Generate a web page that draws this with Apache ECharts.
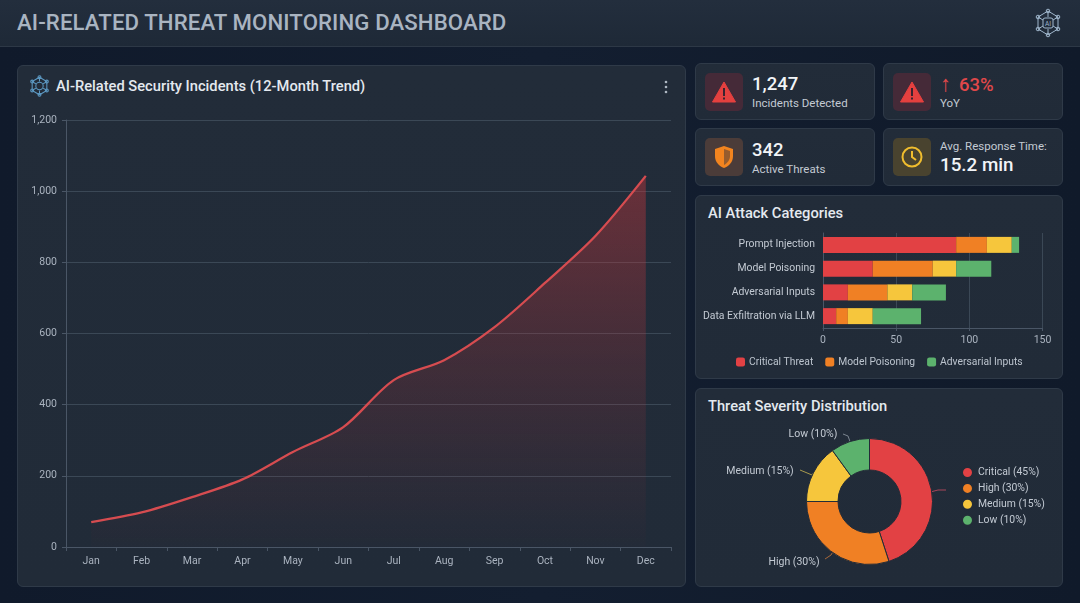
<!DOCTYPE html>
<html><head><meta charset="utf-8">
<script src="https://cdn.jsdelivr.net/npm/echarts@6/dist/echarts.min.js"></script>
<style>
html,body{margin:0;padding:0;width:1080px;height:603px;overflow:hidden;background:#0f1929;font-family:Roboto,sans-serif;}
#bg{position:absolute;inset:0;background:linear-gradient(90deg,#101a2b,#131e30 50%,#101a2a);}
#header{position:absolute;left:0;top:0;width:1080px;height:46px;background:linear-gradient(180deg,#232e3d,#1e2937);border-bottom:1px solid #2d3846;}
#header .t{position:absolute;left:17px;top:8px;font-size:22.2px;line-height:28px;font-weight:500;color:#a9b4c1;letter-spacing:.1px;white-space:nowrap;}
.card{position:absolute;box-sizing:border-box;background:linear-gradient(180deg,#222c39,#212b38);border:1px solid #2f3a48;border-radius:6px;}
.h{position:absolute;font-size:14.7px;line-height:20px;font-weight:500;color:#e4e9ef;white-space:nowrap;}
.box{position:absolute;left:9px;top:9px;width:38px;height:38px;border-radius:5px;display:flex;align-items:center;justify-content:center;}
.big{position:absolute;left:56px;font-size:18.5px;line-height:22px;font-weight:500;color:#f1f4f7;white-space:nowrap;}
.small{position:absolute;left:56px;font-size:11.5px;line-height:16px;color:#c3cad3;white-space:nowrap;}
#chart{position:absolute;left:0;top:0;width:1080px;height:603px;}
svg{display:block;}
</style></head><body>
<div id="bg"></div>
<div id="header"><div class="t">AI-RELATED THREAT MONITORING DASHBOARD</div>
<svg style="position:absolute;left:1033px;top:8px" width="30" height="30" viewBox="0 0 30 30" fill="none" stroke="#9fb6cc" stroke-width="1"><path d="M15 3L25 9V21L15 27L5 21V9Z"/><path d="M15 3V9M25 9L20 12M25 21L20 18M15 27V21M5 21L10 18M5 9L10 12"/><rect x="10" y="10" width="10" height="10" rx="2"/><circle cx="15" cy="3" r="1.8"/><circle cx="25" cy="9" r="1.8"/><circle cx="25" cy="21" r="1.8"/><circle cx="15" cy="27" r="1.8"/><circle cx="5" cy="21" r="1.8"/><circle cx="5" cy="9" r="1.8"/><text x="15" y="17.5" font-size="6.5" text-anchor="middle" fill="#9fb6cc" stroke="none" font-family="Roboto">AI</text></svg>
</div>

<div class="card" style="left:17px;top:65px;width:669px;height:522px;">
<svg style="position:absolute;left:10px;top:9px" width="23" height="22" viewBox="0 0 30 30" fill="none" stroke="#5d9ac4" stroke-width="1.4"><path d="M15 3L25 9V21L15 27L5 21V9Z"/><path d="M15 3V9M25 9L20 12M25 21L20 18M15 27V21M5 21L10 18M5 9L10 12"/><circle cx="15" cy="15" r="5"/><circle cx="15" cy="3" r="2"/><circle cx="25" cy="9" r="2"/><circle cx="25" cy="21" r="2"/><circle cx="15" cy="27" r="2"/><circle cx="5" cy="21" r="2"/><circle cx="5" cy="9" r="2"/></svg>
<div class="h" style="left:38px;top:10px;">AI-Related Security Incidents (12-Month Trend)</div>
<svg style="position:absolute;left:645px;top:14px" width="6" height="14" viewBox="0 0 6 14" fill="#aeb7c2"><circle cx="3" cy="2" r="1.3"/><circle cx="3" cy="7" r="1.3"/><circle cx="3" cy="12" r="1.3"/></svg>
</div>

<div class="card" style="left:695px;top:63px;width:180px;height:57px;">
<div class="box" style="background:#452a38"><svg width="24" height="22" viewBox="0 0 24 22"><path d="M12 1L23.5 21H.5Z" fill="#e5403f" stroke="#e5403f" stroke-linejoin="round"/><path d="M11 7h2v8h-2zM11 16.5h2v2h-2z" fill="#3a2430"/></svg></div>
<div class="big" style="top:9px">1,247</div><div class="small" style="top:31px">Incidents Detected</div></div>

<div class="card" style="left:883px;top:63px;width:180px;height:57px;">
<div class="box" style="background:#452a38"><svg width="24" height="22" viewBox="0 0 24 22"><path d="M12 1L23.5 21H.5Z" fill="#e5403f" stroke="#e5403f" stroke-linejoin="round"/><path d="M11 7h2v8h-2zM11 16.5h2v2h-2z" fill="#3a2430"/></svg></div>
<div class="big" style="top:9px;color:#e0484a"><span style="font-size:22px;line-height:22px;font-weight:700;margin-right:8px">↑</span>63%</div><div class="small" style="top:31px">YoY</div></div>

<div class="card" style="left:695px;top:128px;width:180px;height:58px;">
<div class="box" style="background:#4b3c39"><svg width="20" height="24" viewBox="0 0 20 24"><path d="M10 1L19 4V11C19 17 15 21 10 23C5 21 1 17 1 11V4Z" fill="#f2841f"/><path d="M10 4L16 6V11C16 15 13.500 18 10 20Z" fill="#4b3c39" opacity=".55"/></svg></div>
<div class="big" style="top:10px">342</div><div class="small" style="top:32px">Active Threats</div></div>

<div class="card" style="left:883px;top:128px;width:180px;height:58px;">
<div class="box" style="background:#49432f"><svg width="22" height="22" viewBox="0 0 22 22" fill="none" stroke="#f0bd2e" stroke-width="2"><circle cx="11" cy="11" r="9.500"/><path d="M11 5V11L15 14"/></svg></div>
<div class="small" style="top:9px;color:#c3cad3">Avg. Response Time:</div><div class="big" style="top:25px;font-size:18.800px">15.2 min</div></div>

<div class="card" style="left:695px;top:195px;width:368px;height:184px;"><div class="h" style="left:12px;top:7px;">AI Attack Categories</div></div>
<div class="card" style="left:695px;top:388px;width:368px;height:199px;"><div class="h" style="left:12px;top:7px;">Threat Severity Distribution</div></div>

<div id="chart"></div>
<script>
var months = ['Jan','Feb','Mar','Apr','May','Jun','Jul','Aug','Sep','Oct','Nov','Dec'];
var incidents = [70,97,140,190,267,337,469,525,618,742,874,1043];
var attackCategories = ['Prompt Injection','Model Poisoning','Adversarial Inputs','Data Exfiltration via LLM'];
var criticalThreat = [91,34,17,9];
var modelPoisoning = [21,41,27,8];
var otherAttacks = [17,16,17,17];
var adversarialInputs = [5,24,23,33];
var severityNames = ['Critical (45%)','High (30%)','Medium (15%)','Low (10%)'];
var severityValues = [45,30,15,10];

var RED='#e24144', ORANGE='#f08024', YELLOW='#f6c63c', GREEN='#5cb26d';
var labelCol='#aab3bf', splitCol='#3b4856', axisCol='#4a5666';
var leaderCols=['#a8465a','#a8683a','#a89a4e','#7b8590'];
var chart = echarts.init(document.getElementById('chart'), null, {renderer:'canvas'});
function stack(name,data,color){
  return {type:'bar',name:name,stack:'a',xAxisIndex:1,yAxisIndex:1,data:data,barWidth:16,itemStyle:{color:color},silent:true};
}
function pieLabelPos(p){
  var a=p.labelLinePoints[0];
  if(p.dataIndex===1) return {x:794,y:562,align:'center',verticalAlign:'middle',
    labelLinePoints:[[825,559],[831,555],[a[0],a[1]]]};
  if(p.dataIndex===2) return {x:760,y:471,align:'center',verticalAlign:'middle',
    labelLinePoints:[[800,470],[812,475],[a[0],a[1]]]};
  if(p.dataIndex===3) return {x:813,y:434,align:'center',verticalAlign:'middle',
    labelLinePoints:[[843,434],[848,436],[a[0],a[1]]]};
  return {x:946,y:490,align:'left',verticalAlign:'middle'};
}
chart.setOption({
  animation:false,
  textStyle:{fontFamily:'Roboto'},
  grid:[{left:66,top:120,width:605,height:427},{left:823,top:233,width:219.5,height:95}],
  xAxis:[
    {type:'category',gridIndex:0,data:months,boundaryGap:true,
      axisLine:{lineStyle:{color:axisCol}},axisTick:{show:true,length:4,lineStyle:{color:axisCol}},
      axisLabel:{color:labelCol,fontSize:10.5,margin:9},splitLine:{show:false}},
    {type:'value',gridIndex:1,min:0,max:150,interval:50,
      axisLine:{show:true,lineStyle:{color:axisCol}},axisTick:{show:true,length:3,lineStyle:{color:axisCol}},
      axisLabel:{color:labelCol,fontSize:10.5,margin:7},splitLine:{show:true,lineStyle:{color:splitCol}}}
  ],
  yAxis:[
    {type:'value',gridIndex:0,min:0,max:1200,interval:200,
      axisLine:{show:true,lineStyle:{color:axisCol}},axisTick:{show:true,length:4,lineStyle:{color:axisCol}},
      axisLabel:{color:labelCol,fontSize:10.5,margin:9,formatter:function(v){return v.toLocaleString('en-US');}},
      splitLine:{show:true,lineStyle:{color:splitCol}}},
    {type:'category',gridIndex:1,data:attackCategories,inverse:true,
      axisLine:{show:true,lineStyle:{color:axisCol}},axisTick:{show:false},
      axisLabel:{color:'#c3cad3',fontSize:10.4,margin:8},splitLine:{show:false}}
  ],
  legend:[
    {data:['Critical Threat','Model Poisoning','Adversarial Inputs'],left:731,top:352,itemWidth:9,itemHeight:9,itemGap:12,icon:'roundRect',
      textStyle:{color:'#bcc4ce',fontSize:10.3,padding:[0,0,0,-1]}},
    {data:severityNames,orient:'vertical',left:956,top:461,itemWidth:11,itemHeight:11,itemGap:2.9,icon:'circle',
      textStyle:{color:'#c3cad3',fontSize:10.4,padding:[0,0,0,0]}}
  ],
  series:[
    {type:'line',name:'Incidents',xAxisIndex:0,yAxisIndex:0,data:incidents,smooth:0.3,showSymbol:false,silent:true,
      lineStyle:{color:'#d64c50',width:2.3},
      areaStyle:{origin:'start',color:new echarts.graphic.LinearGradient(0,0,0,1,[
        {offset:0,color:'rgba(200,55,60,0.62)'},{offset:0.5,color:'rgba(200,55,60,0.27)'},{offset:0.8,color:'rgba(200,55,60,0.11)'},{offset:1,color:'rgba(200,55,60,0.02)'}])}},
    stack('Critical Threat',criticalThreat,RED),
    stack('Model Poisoning',modelPoisoning,ORANGE),
    stack('Other',otherAttacks,YELLOW),
    stack('Adversarial Inputs',adversarialInputs,GREEN),
    {type:'pie',name:'Severity',center:[869.5,501.5],radius:[31.5,63],startAngle:90,clockwise:true,silent:true,
      data:severityNames.map(function(n,i){return {name:n,value:severityValues[i],itemStyle:{color:[RED,ORANGE,YELLOW,GREEN][i]},labelLine:{lineStyle:{color:leaderCols[i],width:1}}};}),
      itemStyle:{borderColor:'#232c38',borderWidth:1},
      label:{show:true,color:'#c3cad3',fontSize:10.5,formatter:function(p){return p.dataIndex===0?' ':p.name;}},
      labelLine:{show:true,length:10,length2:8},
      labelLayout:pieLabelPos}
  ]
});
</script>
</body></html>
